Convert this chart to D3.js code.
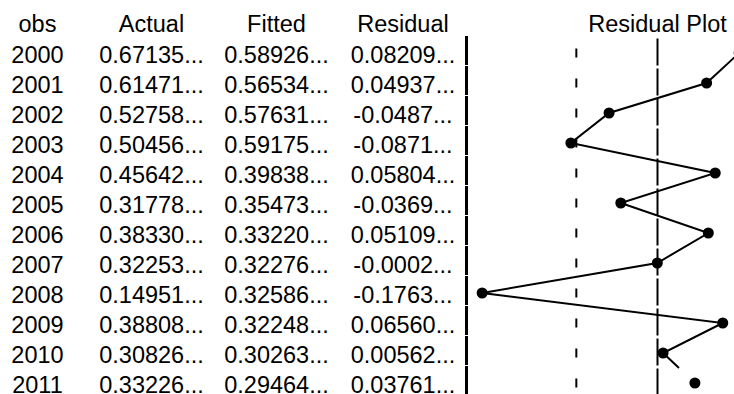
<!DOCTYPE html>
<html>
<head>
<meta charset="utf-8">
<script src="https://cdn.jsdelivr.net/npm/d3@7"></script>
<style>
  html, body { margin: 0; padding: 0; background: #fff; }
  svg { display: block; }
  text { font-family: "Liberation Sans", Arial, sans-serif; fill: #000; }
</style>
</head>
<body>
<div id="chart"></div>
<script>
// Actual / fitted / residual table with a residual plot column
const obs = ["2000", "2001", "2002", "2003", "2004", "2005", "2006", "2007", "2008", "2009", "2010", "2011"];
const actual = [0.67135, 0.61471, 0.52758, 0.50456, 0.45642, 0.31778, 0.38330, 0.32253, 0.14951, 0.38808, 0.30826, 0.33226];
const fitted = [0.58926, 0.56534, 0.57631, 0.59175, 0.39838, 0.35473, 0.33220, 0.32276, 0.32586, 0.32248, 0.30263, 0.29464];
const residual = [0.08209, 0.04937, -0.0487, -0.0871, 0.05804, -0.0369, 0.05109, -0.0002, -0.1763, 0.06560, 0.00562, 0.03761];
const seBand = [-0.0816, 0.0816];           // ±1 S.E. guide lines
const headers = ["obs", "Actual", "Fitted", "Residual", "Residual Plot"];

const W = 734, H = 394;
const fontSize = 23.5;
const rowStep = 30, tableTop = 36;

// truncated cell text, e.g. "0.67135..." / "-0.0487..."
const cell = v => (v < 0 ? v.toFixed(4) : v.toFixed(5)) + "...";

const svg = d3.select("#chart").append("svg")
  .attr("width", W).attr("height", H);

const y = d3.scaleBand().domain(obs).range([tableTop, tableTop + rowStep * obs.length]);

// column centres of the table
const colX = { obs: 37.5, Actual: 151.5, Fitted: 276.5, Residual: 403 };

// residual plot scale (symmetric about zero)
const x = d3.scaleLinear().domain([-0.19, 0.19]).range([468.5, 846.5]);

// header row
headers.forEach(h => {
  svg.append("text")
    .attr("x", h === "Residual Plot" ? x(0) : colX[h])
    .attr("y", 32.3)
    .attr("text-anchor", "middle")
    .attr("font-size", fontSize)
    .text(h);
});

// table body
const rows = obs.map((o, i) => ({ o, a: actual[i], f: fitted[i], r: residual[i] }));
const g = svg.append("g");
rows.forEach(d => {
  const base = y(d.o) + 27;
  [[colX.obs, d.o], [colX.Actual, cell(d.a)], [colX.Fitted, cell(d.f)], [colX.Residual, cell(d.r)]]
    .forEach(([cx, t]) => {
      g.append("text")
        .attr("x", cx).attr("y", base)
        .attr("text-anchor", "middle")
        .attr("font-size", fontSize)
        .text(t);
    });
});

// separator bar, one segment per row
svg.append("g").selectAll("rect")
  .data(obs).join("rect")
  .attr("x", 465).attr("width", 3)
  .attr("y", d => y(d)).attr("height", rowStep - 1)
  .attr("fill", "#000");

// zero line, segmented per row
svg.append("g").selectAll("line")
  .data(obs).join("line")
  .attr("x1", x(0)).attr("x2", x(0))
  .attr("y1", d => y(d) + 2.5).attr("y2", d => y(d) + rowStep - 0.5)
  .attr("stroke", "#000").attr("stroke-width", 2);

// ±S.E. dashed guides: one dash per row
seBand.forEach(s => {
  svg.append("g").selectAll("line")
    .data(obs).join("line")
    .attr("x1", x(s)).attr("x2", x(s))
    .attr("y1", d => y(d) + 12.5).attr("y2", d => y(d) + 21.5)
    .attr("stroke", "#000").attr("stroke-width", 2);
});

// residual path: connected through 2010, last link drawn to the cell edge
const pts = rows.map(d => [x(d.r), y(d.o) + 17]);
const n = pts.length;
const pathPts = pts.slice(0, n - 1);
pathPts.push([(pts[n - 2][0] + pts[n - 1][0]) / 2, (pts[n - 2][1] + pts[n - 1][1]) / 2]);
svg.append("path")
  .attr("d", d3.line()(pathPts))
  .attr("fill", "none")
  .attr("stroke", "#000")
  .attr("stroke-width", 2);

// residual points
svg.append("g").selectAll("circle")
  .data(rows).join("circle")
  .attr("cx", d => x(d.r))
  .attr("cy", d => y(d.o) + 17)
  .attr("r", 5.5)
  .attr("fill", "#000");
</script>
</body>
</html>
